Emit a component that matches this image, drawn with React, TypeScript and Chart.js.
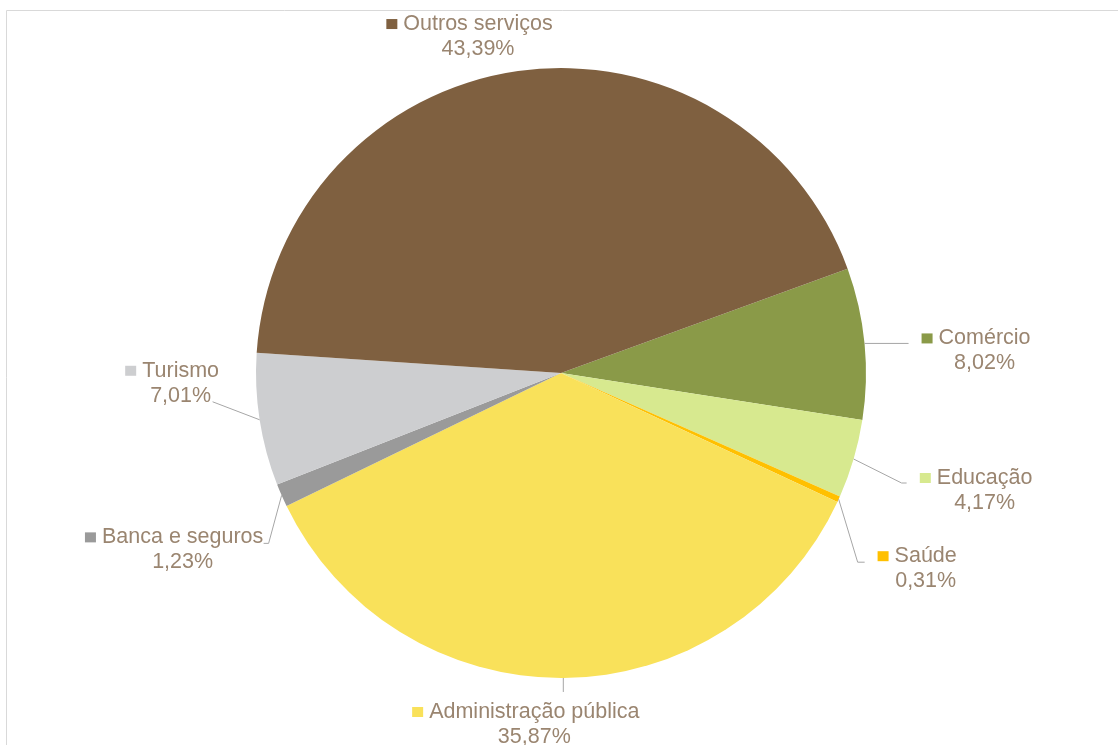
import React, { useEffect, useRef } from "react";
import { Chart, registerables } from "chart.js";

Chart.register(...registerables);

const categories = [
  "Comércio",
  "Educação",
  "Saúde",
  "Administração pública",
  "Banca e seguros",
  "Turismo",
  "Outros serviços",
];
const shares = [8.02, 4.17, 0.31, 35.87, 1.23, 7.01, 43.39];
const percentLabels = ["8,02%", "4,17%", "0,31%", "35,87%", "1,23%", "7,01%", "43,39%"];
const sliceColors = ["#8A9A48", "#D7E98F", "#FFC000", "#F9E15A", "#9A9A9A", "#CDCED0", "#7F6040"];

// label placement relative to each slice's outer mid-point (dx, dy of name-text center)
const labelOffsets: [number, number][] = [
  [120, -5],
  [131, 19],
  [87, 57],
  [-29, 34],
  [-99, 42],
  [-79, -49],
  [-40, -47],
];
// leader line points relative to slice outer mid-point (after start point)
const leaderPaths: [number, number][][] = [
  [[44, 0]],
  [[48, 24], [53, 24]],
  [[19, 63], [26, 63]],
  [[0, 14]],
  [[-13, 48], [-18, 48]],
  [[-47, -18]],
  [],
];

const TEXT_COLOR = "#9a8570";
const FONT = "21.5px 'Liberation Sans', Arial, sans-serif";

const labelPlugin = {
  id: "pieLabels",
  beforeDraw(chart: any) {
    const ctx = chart.ctx;
    ctx.save();
    ctx.strokeStyle = "#D9D9D9";
    ctx.lineWidth = 1;
    ctx.beginPath();
    ctx.moveTo(6.5, 745);
    ctx.lineTo(6.5, 10.5);
    ctx.lineTo(1118, 10.5);
    ctx.stroke();
    ctx.restore();
  },
  afterDraw(chart: any) {
    const ctx = chart.ctx;
    const meta = chart.getDatasetMeta(0);
    ctx.save();
    meta.data.forEach((arc: any, i: number) => {
      const p = arc.getProps(["x", "y", "startAngle", "endAngle", "outerRadius"], true);
      const mid = (p.startAngle + p.endAngle) / 2;
      const ex = p.x + Math.cos(mid) * p.outerRadius;
      const ey = p.y + Math.sin(mid) * p.outerRadius;
      const path = leaderPaths[i];
      if (path.length) {
        ctx.strokeStyle = "#A6A6A6";
        ctx.lineWidth = 1;
        ctx.beginPath();
        ctx.moveTo(ex, ey);
        path.forEach(([dx, dy]) => ctx.lineTo(ex + dx, ey + dy));
        ctx.stroke();
      }
      const cx = ex + labelOffsets[i][0];
      const cy = ey + labelOffsets[i][1];
      ctx.font = FONT;
      ctx.textBaseline = "middle";
      ctx.textAlign = "center";
      ctx.fillStyle = TEXT_COLOR;
      const name = categories[i];
      const w = ctx.measureText(name).width;
      ctx.fillText(name, cx, cy);
      ctx.fillText(percentLabels[i], cx, cy + 25);
      ctx.fillStyle = sliceColors[i];
      ctx.fillRect(cx - w / 2 - 17, cy - 5, 11, 10);
    });
    ctx.restore();
  },
};

export default function App() {
  const ref = useRef<HTMLCanvasElement>(null);
  useEffect(() => {
    document.body.style.margin = "0";
    const chart = new Chart(ref.current!, {
      type: "pie",
      data: {
        labels: categories,
        datasets: [
          {
            data: shares,
            backgroundColor: sliceColors,
            borderWidth: 0,
          },
        ],
      },
      options: {
        animation: false,
        responsive: false,
        rotation: 70,
        layout: { padding: { top: 68, bottom: 67, left: 161, right: 157 } },
        plugins: {
          legend: { display: false },
          tooltip: { enabled: false },
        },
      },
      plugins: [labelPlugin],
    });
    return () => chart.destroy();
  }, []);
  return (
    <div style={{ width: 1118, height: 745, background: "#fff" }}>
      <canvas ref={ref} width={1118} height={745} />
    </div>
  );
}
